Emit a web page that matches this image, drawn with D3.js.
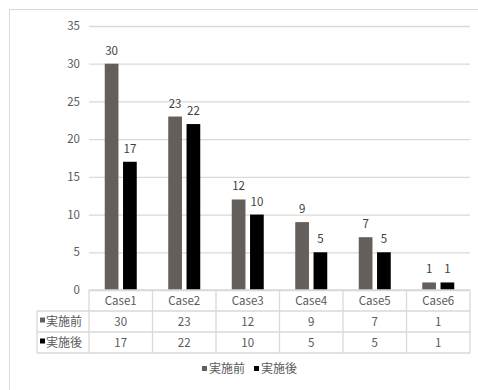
<!DOCTYPE html>
<html><head><meta charset="utf-8">
<script src="https://cdn.jsdelivr.net/npm/d3@7"></script>
<style>
html,body{margin:0;padding:0;background:#fff;}
text{font-family:"Noto Sans CJK JP","Noto Sans",sans-serif;}
</style></head>
<body>
<svg id="chart" width="478" height="390"></svg>
<script>
const cases = ["Case1","Case2","Case3","Case4","Case5","Case6"];
const seriesNames = ["実施前","実施後"];
const before = [30,23,12,9,7,1];
const after = [17,22,10,5,5,1];
const yTicks = [0,5,10,15,20,25,30,35];
const seriesValues = [before, after];
const seriesColors = ["#655f5b","#000000"];

const svg = d3.select("#chart");
const grid = "#d9d9d9", txt = "#595959";

svg.append("rect").attr("x",9.5).attr("y",9.5).attr("width",480).attr("height",390)
  .attr("fill","none").attr("stroke",grid);

const x = d3.scaleBand().domain(cases).range([89,470]);
const bw = x.bandwidth();
const x1 = d3.scaleBand().domain(seriesNames).range([bw/2-16, bw/2+16]).paddingInner(0.25);
const y = d3.scaleLinear().domain([0,35]).range([290,26]);

// gridlines + y labels via axis
const yAxis = d3.axisLeft(y).tickValues(yTicks).tickSize(-(470-89)).tickPadding(9);
const ga = svg.append("g").attr("transform","translate(89,0)").call(yAxis);
ga.select(".domain").remove();
ga.selectAll(".tick line").attr("stroke",grid).attr("stroke-width",1.3);
ga.selectAll(".tick text").attr("fill",txt).attr("font-size",11.5);

// bars
const table = cases.map((c,i)=>({c, vals: seriesNames.map((s,j)=>({s, v: seriesValues[j][i], j}))}));
const groups = svg.append("g").selectAll("g").data(table).join("g")
  .attr("transform",d=>`translate(${x(d.c)},0)`);
groups.selectAll("rect").data(d=>d.vals).join("rect")
  .attr("x",d=>x1(d.s)).attr("width",x1.bandwidth())
  .attr("y",d=>y(d.v)).attr("height",d=>y(0)-y(d.v))
  .attr("fill",d=>seriesColors[d.j]);
groups.selectAll("text").data(d=>d.vals).join("text")
  .attr("x",d=>x1(d.s)+x1.bandwidth()/2).attr("y",d=>y(d.v)-9)
  .attr("text-anchor","middle").attr("font-size",11.5).attr("fill","#404040")
  .text(d=>d.v);

// data table
const rowY = [290,311,332,353];
const tl = svg.append("g").attr("stroke",grid).attr("stroke-width",1.3);
tl.append("line").attr("x1",89).attr("x2",470).attr("y1",rowY[0]).attr("y2",rowY[0]);
[1,2,3].forEach(r=>tl.append("line").attr("x1",37).attr("x2",470).attr("y1",rowY[r]).attr("y2",rowY[r]));
cases.forEach(c=>tl.append("line").attr("x1",x(c)).attr("x2",x(c)).attr("y1",rowY[0]).attr("y2",rowY[3]));
tl.append("line").attr("x1",470).attr("x2",470).attr("y1",rowY[0]).attr("y2",rowY[3]);
tl.append("line").attr("x1",37).attr("x2",37).attr("y1",rowY[1]).attr("y2",rowY[3]);

svg.append("g").selectAll("text").data(cases).join("text")
  .attr("x",c=>x(c)+bw/2).attr("y",(rowY[0]+rowY[1])/2).attr("dy","0.35em")
  .attr("text-anchor","middle").attr("font-size",11.5).attr("fill",txt).text(c=>c);

seriesNames.forEach((s,j)=>{
  const cy = (rowY[j+1]+rowY[j+2])/2;
  svg.append("rect").attr("x",40).attr("y",cy-4).attr("width",5).attr("height",5).attr("fill",seriesColors[j]);
  svg.append("text").attr("x",46).attr("y",cy).attr("dy","0.35em").attr("font-size",12)
    .attr("fill",txt).text(s);
  svg.append("g").selectAll("text").data(seriesValues[j]).join("text")
    .attr("x",(v,i)=>x(cases[i])+bw/2).attr("y",cy).attr("dy","0.35em")
    .attr("text-anchor","middle").attr("font-size",11.5).attr("fill",txt).text(v=>v);
});

// legend
const lg = svg.append("g");
let lx = 202;
seriesNames.forEach((s,j)=>{
  lg.append("rect").attr("x",lx).attr("y",366).attr("width",5).attr("height",5).attr("fill",seriesColors[j]);
  const t = lg.append("text").attr("x",lx+7).attr("y",369).attr("dy","0.35em").attr("font-size",12)
    .attr("fill",txt).text(s);
  lx += 7 + t.node().getComputedTextLength() + 9;
});
</script>
</body></html>
